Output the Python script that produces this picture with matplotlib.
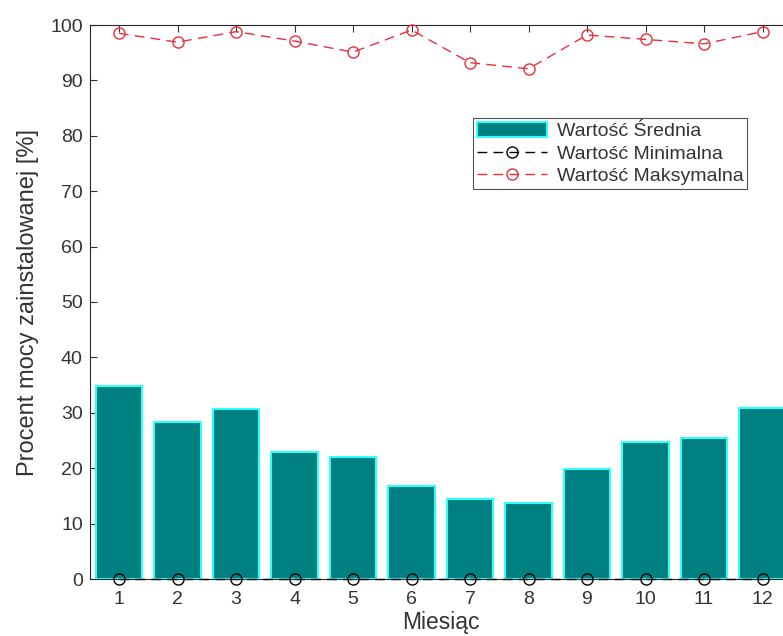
import numpy as np
import matplotlib
matplotlib.use("Agg")
import matplotlib.pyplot as plt

plt.rcParams['font.family'] = ['Liberation Sans', 'DejaVu Sans']

months = np.arange(1, 13)
mean_vals = [34.8, 28.3, 30.6, 23.0, 22.1, 16.8, 14.5, 13.8, 19.8, 24.7, 25.5, 30.9]
min_vals = [0, 0, 0, 0, 0, 0, 0, 0, 0, 0, 0, 0]
max_vals = [98.5, 96.9, 98.8, 97.1, 95.1, 99.1, 93.2, 92.1, 98.2, 97.4, 96.6, 98.8]

fig = plt.figure(figsize=(7.83, 6.36), dpi=100)
ax = fig.add_axes([89.75 / 783, 57 / 636, 702 / 783, 554 / 636])

bars = ax.bar(months, mean_vals, width=0.8, color="#008080", edgecolor="#33ffff",
              linewidth=1.5, label="Wartość Średnia", zorder=2)
ln_min, = ax.plot(months, min_vals, "k--o", mfc="none", markersize=8, linewidth=1,
                  dashes=(7, 4.5), label="Wartość Minimalna", zorder=3, clip_on=False)
ln_max, = ax.plot(months, max_vals, "--o", color="#e8303a", mfc="none", markersize=8,
                  linewidth=1, dashes=(7, 4.5), label="Wartość Maksymalna", zorder=3,
                  clip_on=False)

ax.set_xlim(0.5, 12.5)
ax.set_ylim(0, 100)
ax.set_xticks(months)
ax.set_yticks(range(0, 101, 10))
ax.tick_params(direction="in", top=True, right=True, labelsize=14,
               colors="#333333", length=5, width=0.8)
ax.tick_params(axis="x", pad=9)
ax.tick_params(axis="y", pad=5)
for s in ax.spines.values():
    s.set_color("#262626")
    s.set_linewidth(0.8)

ax.set_xlabel("Miesiąc", fontsize=16.5, color="#333333", labelpad=2)
ax.set_ylabel("Procent mocy zainstalowanej [%]", fontsize=17, color="#333333",
              labelpad=8)

leg = ax.legend([bars, ln_min, ln_max],
                ["Wartość Średnia", "Wartość Minimalna", "Wartość Maksymalna"],
                loc="upper left", bbox_to_anchor=((473 - 89.75) / 702, (579 - 118) / 554),
                fontsize=14, frameon=True, fancybox=False, borderpad=0.2,
                labelspacing=0.2, handlelength=3.6, handleheight=0.85,
                handletextpad=0.5, borderaxespad=0)
leg.get_frame().set_edgecolor("#262626")
leg.get_frame().set_linewidth(0.8)
for t in leg.get_texts():
    t.set_color("#333333")

fig.savefig("out.png", dpi=100)
